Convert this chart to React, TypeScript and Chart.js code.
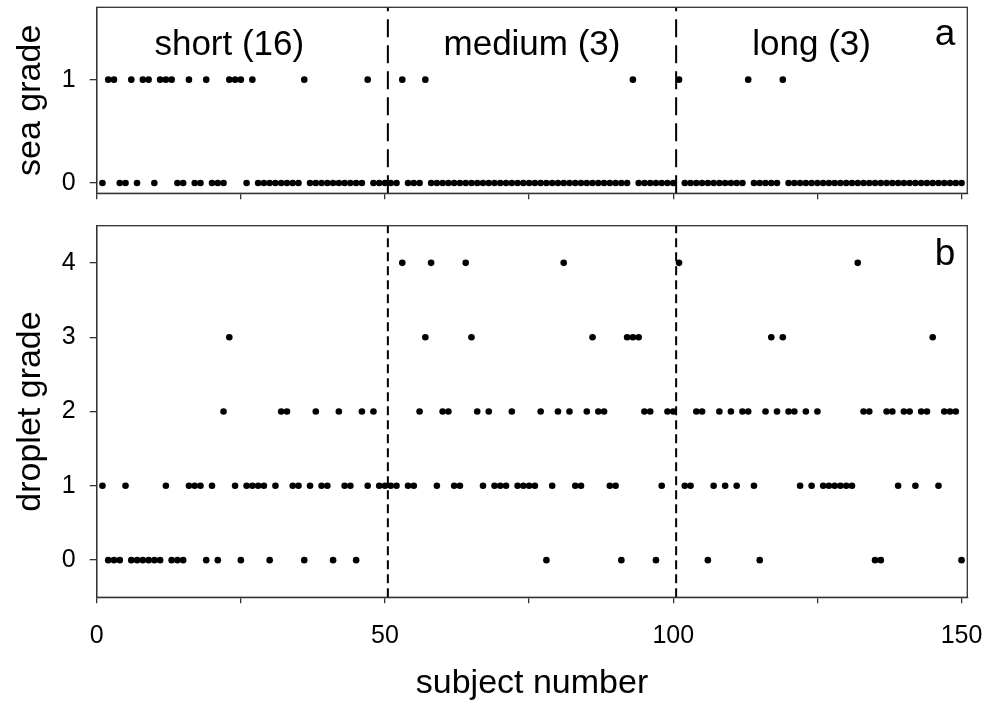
import React, { useEffect, useRef } from 'react';
import { Chart, registerables } from 'chart.js';

Chart.register(...registerables);

// ---------------- data ----------------
const subjects: number[] = Array.from({ length: 150 }, (_, i) => i + 1);

const seaGrade: number[] = [
  0, 1, 1, 0, 0, 1, 0, 1, 1, 0, 1, 1, 1, 0, 0, 1, 0, 0, 1, 0, 0, 0, 1, 1, 1,
  0, 1, 0, 0, 0, 0, 0, 0, 0, 0, 1, 0, 0, 0, 0, 0, 0, 0, 0, 0, 0, 1, 0, 0, 0,
  0, 0, 1, 0, 0, 0, 1, 0, 0, 0, 0, 0, 0, 0, 0, 0, 0, 0, 0, 0, 0, 0, 0, 0, 0,
  0, 0, 0, 0, 0, 0, 0, 0, 0, 0, 0, 0, 0, 0, 0, 0, 0, 1, 0, 0, 0, 0, 0, 0, 0,
  1, 0, 0, 0, 0, 0, 0, 0, 0, 0, 0, 0, 1, 0, 0, 0, 0, 0, 1, 0, 0, 0, 0, 0, 0,
  0, 0, 0, 0, 0, 0, 0, 0, 0, 0, 0, 0, 0, 0, 0, 0, 0, 0, 0, 0, 0, 0, 0, 0, 0,
];

const dropletGrade: number[] = [
  1, 0, 0, 0, 1, 0, 0, 0, 0, 0, 0, 1, 0, 0, 0, 1, 1, 1, 0, 1, 0, 2, 3, 1, 0,
  1, 1, 1, 1, 0, 1, 2, 2, 1, 1, 0, 1, 2, 1, 1, 0, 2, 1, 1, 0, 2, 1, 2, 1, 1,
  1, 1, 4, 1, 1, 2, 3, 4, 1, 2, 2, 1, 1, 4, 3, 2, 1, 2, 1, 1, 1, 2, 1, 1, 1,
  1, 2, 0, 1, 2, 4, 2, 1, 1, 2, 3, 2, 2, 1, 1, 0, 3, 3, 3, 2, 2, 0, 1, 2, 2,
  4, 1, 1, 2, 2, 0, 1, 2, 1, 2, 1, 2, 2, 1, 0, 2, 3, 2, 3, 2, 2, 1, 2, 1, 2,
  1, 1, 1, 1, 1, 1, 4, 2, 2, 0, 0, 2, 2, 1, 2, 2, 1, 2, 2, 3, 1, 2, 2, 2, 0,
];

const groupNames: string[] = ['short', 'medium', 'long'];
const groupBoundaries: number[] = [50.5, 100.5];
const groupLabelX: number[] = [23, 75.5, 124];

const xTicks: number[] = [0, 25, 50, 75, 100, 125, 150];
const xTickLabels: number[] = [0, 50, 100, 150];
const seaTicks: number[] = [0, 1];
const dropletTicks: number[] = [0, 1, 2, 3, 4];

// ---------------- styles ----------------
const FONT = '"Liberation Sans", Arial, Helvetica, sans-serif';
const AXIS = '#333333';
const INK = '#000000';

function groupCounts(): number[] {
  const edges = [0, ...groupBoundaries, Infinity];
  return groupNames.map((_, g) =>
    subjects.filter((s, i) => s > edges[g] && s < edges[g + 1] && seaGrade[i] === 1).length
  );
}

function zeroPadding(s: any) {
  s.paddingTop = 0;
  s.paddingBottom = 0;
  s.paddingLeft = 0;
  s.paddingRight = 0;
}

const framePlugin = {
  id: 'frame',
  afterDatasetsDraw(chart: any) {
    const { ctx, chartArea } = chart;
    ctx.save();
    ctx.strokeStyle = AXIS;
    ctx.lineWidth = 1.3;
    ctx.strokeRect(chartArea.left, chartArea.top, chartArea.right - chartArea.left, chartArea.bottom - chartArea.top);
    ctx.restore();
  },
};

type TextItem = { text: string; x: number | 'right'; dy: number; size: number; align: CanvasTextAlign; dx?: number };

function textPlugin(id: string, items: TextItem[]) {
  return {
    id,
    afterDraw(chart: any) {
      const { ctx, chartArea } = chart;
      const xs = chart.scales.x;
      ctx.save();
      ctx.fillStyle = INK;
      ctx.textBaseline = 'alphabetic';
      for (const it of items) {
        ctx.font = `${it.size}px ${FONT}`;
        ctx.textAlign = it.align;
        const x = it.x === 'right' ? chartArea.right - (it.dx || 0) : xs.getPixelForValue(it.x);
        ctx.fillText(it.text, x, chartArea.top + it.dy);
      }
      ctx.restore();
    },
  };
}

function boundaryDatasets(yMin: number, yMax: number, dash: number[]) {
  return groupBoundaries.map((b) => ({
    type: 'scatter' as const,
    data: [
      { x: b, y: yMin },
      { x: b, y: yMax },
    ],
    showLine: true,
    borderColor: INK,
    borderWidth: 2,
    borderDash: dash,
    pointRadius: 0,
    order: 2,
  }));
}

function xScale(showLabels: boolean, height: number, withTitle: boolean) {
  return {
    type: 'linear' as const,
    min: 0,
    max: 151,
    afterBuildTicks: (s: any) => {
      s.ticks = xTicks.map((v) => ({ value: v }));
    },
    afterFit: (s: any) => {
      s.height = height;
      zeroPadding(s);
    },
    ticks: {
      display: showLabels,
      color: INK,
      font: { size: 25, family: FONT },
      padding: 18,
      maxRotation: 0,
      autoSkip: false,
      callback: (v: any) => (xTickLabels.includes(Number(v)) ? String(v) : ''),
    },
    grid: { drawOnChartArea: false, drawTicks: true, tickLength: 6, color: AXIS, lineWidth: 1.3 },
    border: { display: true, color: AXIS, width: 1.3 },
    title: {
      display: withTitle,
      text: 'subject number',
      color: INK,
      font: { size: 34, family: FONT, lineHeight: 1 },
      padding: { top: 0, bottom: 3 },
    },
  };
}

function yScale(min: number, max: number, ticks: number[], title: string) {
  return {
    type: 'linear' as const,
    min,
    max,
    afterBuildTicks: (s: any) => {
      s.ticks = ticks.map((v) => ({ value: v }));
    },
    afterFit: (s: any) => {
      s.width = 96.7;
      zeroPadding(s);
    },
    ticks: { color: INK, font: { size: 25, family: FONT }, padding: 14 },
    grid: { drawOnChartArea: false, drawTicks: true, tickLength: 7, color: AXIS, lineWidth: 1.3 },
    border: { display: true, color: AXIS, width: 1.3 },
    title: {
      display: true,
      text: title,
      color: INK,
      font: { size: 34, family: FONT, lineHeight: 1 },
      padding: { top: 14, bottom: 0 },
    },
  };
}

export default function App() {
  const topRef = useRef<HTMLCanvasElement | null>(null);
  const botRef = useRef<HTMLCanvasElement | null>(null);

  useEffect(() => {
    if (!topRef.current || !botRef.current) return;
    const counts = groupCounts();

    const seaPoints = subjects.map((s, i) => ({ x: s, y: seaGrade[i] }));
    const dropPoints = subjects.map((s, i) => ({ x: s, y: dropletGrade[i] }));

    const topChart = new Chart(topRef.current, {
      type: 'scatter',
      data: {
        datasets: [
          {
            data: seaPoints,
            backgroundColor: INK,
            borderWidth: 0,
            pointRadius: 3.3,
            order: 1,
          },
          ...boundaryDatasets(-0.1, 1.7, [18, 8]),
        ] as any,
      },
      options: {
        animation: false,
        responsive: false,
        maintainAspectRatio: false,
        layout: { padding: { left: 0, top: 7.3, right: 22.7, bottom: 0 } },
        plugins: { legend: { display: false }, tooltip: { enabled: false } },
        scales: {
          x: xScale(false, 215 - 193.3, false),
          y: yScale(-0.1, 1.7, seaTicks, 'sea grade'),
        } as any,
      },
      plugins: [
        framePlugin,
        textPlugin('labelsA', [
          ...groupNames.map((n, g) => ({
            text: `${n} (${counts[g]})`,
            x: groupLabelX[g],
            dy: 48,
            size: 35,
            align: 'center' as CanvasTextAlign,
          })),
          { text: 'a', x: 'right', dx: 12, dy: 38, size: 37, align: 'right' as CanvasTextAlign },
        ]),
      ],
    });

    const botChart = new Chart(botRef.current, {
      type: 'scatter',
      data: {
        datasets: [
          {
            data: dropPoints,
            backgroundColor: INK,
            borderWidth: 0,
            pointRadius: 3.3,
            order: 1,
          },
          ...boundaryDatasets(-0.5, 4.5, [9, 5]),
        ] as any,
      },
      options: {
        animation: false,
        responsive: false,
        maintainAspectRatio: false,
        layout: { padding: { left: 0, top: 10.7, right: 22.7, bottom: 0 } },
        plugins: { legend: { display: false }, tooltip: { enabled: false } },
        scales: {
          x: xScale(true, 489 - 382.3, true),
          y: yScale(-0.5, 4.5, dropletTicks, 'droplet grade'),
        } as any,
      },
      plugins: [
        framePlugin,
        textPlugin('labelsB', [{ text: 'b', x: 'right', dx: 12, dy: 39, size: 37, align: 'right' as CanvasTextAlign }]),
      ],
    });

    return () => {
      topChart.destroy();
      botChart.destroy();
    };
  }, []);

  return (
    <div style={{ position: 'absolute', left: 0, top: 0, width: 990, height: 704, background: '#fff' }}>
      <canvas ref={topRef} width={990} height={215} style={{ position: 'absolute', left: 0, top: 0, width: 990, height: 215 }} />
      <canvas ref={botRef} width={990} height={489} style={{ position: 'absolute', left: 0, top: 215, width: 990, height: 489 }} />
    </div>
  );
}
